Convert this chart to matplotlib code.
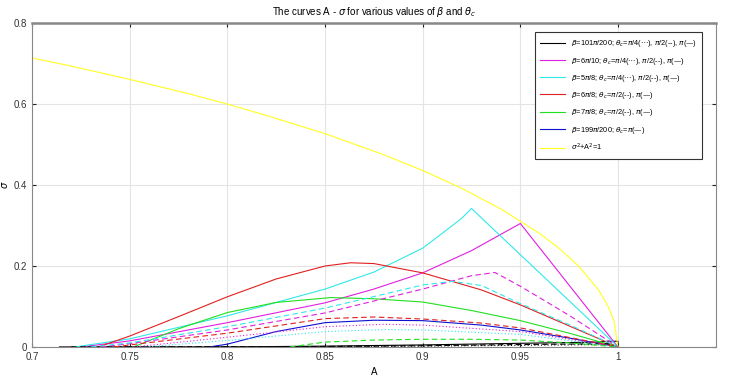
import numpy as np
import matplotlib.pyplot as plt

plt.rcParams['font.family'] = ['Liberation Sans', 'DejaVu Sans']
plt.rcParams['mathtext.fontset'] = 'dejavusans'

# --- data (A, sigma) ---
# beta = 101pi/200
blk_pi_A = [0.714, 0.80, 0.85, 0.90, 0.95, 0.99, 0.995, 1.0, 1.0]
blk_pi_s = [0.0, 0.0, 0.002, 0.005, 0.009, 0.012, 0.014, 0.014, 0.0]
blk_half_A = [0.72, 0.85, 0.90, 0.95, 0.995, 1.0]
blk_half_s = [0.0, 0.001, 0.003, 0.006, 0.008, 0.0]
blk_quar_A = [0.725, 0.85, 0.90, 0.95, 0.995, 0.995]
blk_quar_s = [0.0, 0.001, 0.002, 0.004, 0.006, 0.0]

# beta = 6pi/10
mag_pi_A = [0.725, 0.75, 0.80, 0.85, 0.875, 0.90, 0.925, 0.95, 1.0]
mag_pi_s = [0.0, 0.015, 0.06, 0.109, 0.143, 0.183, 0.238, 0.305, 0.0]
mag_half_A = [0.735, 0.75, 0.80, 0.85, 0.90, 0.925, 0.937, 0.95, 0.975, 1.0]
mag_half_s = [0.0, 0.008, 0.042, 0.084, 0.143, 0.176, 0.184, 0.15, 0.078, 0.0]
mag_quar_A = [0.752, 0.80, 0.85, 0.88, 0.90, 0.95, 1.0]
mag_quar_s = [0.0, 0.024, 0.05, 0.056, 0.054, 0.038, 0.0]

# beta = 5pi/8
cya_pi_A = [0.722, 0.75, 0.80, 0.85, 0.875, 0.90, 0.9125, 0.92, 0.925, 0.95, 1.0]
cya_pi_s = [0.0, 0.02, 0.077, 0.143, 0.185, 0.244, 0.29, 0.318, 0.342, 0.228, 0.0]
cya_half_A = [0.73, 0.75, 0.80, 0.85, 0.90, 0.915, 0.93, 0.95, 0.975, 1.0]
cya_half_s = [0.0, 0.01, 0.05, 0.096, 0.153, 0.162, 0.152, 0.107, 0.055, 0.0]
cya_quar_A = [0.758, 0.80, 0.85, 0.88, 0.90, 0.95, 1.0]
cya_quar_s = [0.0, 0.016, 0.038, 0.043, 0.042, 0.031, 0.0]

# beta = 6pi/8
red_pi_A = [0.734, 0.75, 0.775, 0.80, 0.825, 0.85, 0.863, 0.875, 0.90, 0.93, 0.95, 0.975, 1.0]
red_pi_s = [0.0, 0.027, 0.075, 0.124, 0.168, 0.2, 0.208, 0.206, 0.183, 0.141, 0.104, 0.052, 0.0]
red_half_A = [0.742, 0.75, 0.80, 0.85, 0.875, 0.90, 0.93, 0.95, 1.0]
red_half_s = [0.0, 0.005, 0.034, 0.07, 0.074, 0.069, 0.059, 0.047, 0.0]

# beta = 7pi/8
grn_pi_A = [0.752, 0.775, 0.80, 0.825, 0.853, 0.875, 0.90, 0.925, 0.95, 0.975, 1.0]
grn_pi_s = [0.0, 0.045, 0.085, 0.11, 0.122, 0.119, 0.111, 0.09, 0.065, 0.034, 0.0]
grn_half_A = [0.832, 0.85, 0.875, 0.90, 0.925, 0.95, 0.975, 1.0]
grn_half_s = [0.0, 0.012, 0.017, 0.019, 0.019, 0.017, 0.01, 0.0]

# beta = 199pi/200
blu_pi_A = [0.791, 0.80, 0.825, 0.85, 0.875, 0.90, 0.93, 0.95, 0.975, 1.0]
blu_pi_s = [0.0, 0.007, 0.038, 0.06, 0.066, 0.065, 0.054, 0.042, 0.022, 0.0]

# sigma^2 + A^2 = 1
yel_A = [0.70, 0.72, 0.75, 0.78, 0.80, 0.82, 0.85, 0.88, 0.90, 0.92, 0.94,
         0.96, 0.97, 0.98, 0.99, 0.995, 0.998, 1.0]
yel_s = [0.714, 0.694, 0.661, 0.626, 0.60, 0.572, 0.527, 0.475, 0.436, 0.392,
         0.341, 0.28, 0.243, 0.199, 0.141, 0.10, 0.063, 0.0]

labels = [
    r'$\beta$=101$\pi$/200; $\theta_c$=$\pi$/4($\cdots$), $\pi$/2(--), $\pi$(—)',
    r'$\beta$=6$\pi$/10; $\theta_c$=$\pi$/4($\cdots$), $\pi$/2(--), $\pi$(—)',
    r'$\beta$=5$\pi$/8; $\theta_c$=$\pi$/4($\cdots$), $\pi$/2(--), $\pi$(—)',
    r'$\beta$=6$\pi$/8; $\theta_c$=$\pi$/2(--), $\pi$(—)',
    r'$\beta$=7$\pi$/8; $\theta_c$=$\pi$/2(--), $\pi$(—)',
    r'$\beta$=199$\pi$/200; $\theta_c$=$\pi$(—)',
    r'$\sigma^2$+A$^2$=1',
]

c_blk, c_mag, c_cya = '#000000', '#e020e0', '#30e8e8'
c_red, c_grn, c_blu, c_yel = '#e02020', '#20e020', '#1010d0', '#ffff20'
lw = 0.8

fig = plt.figure(figsize=(7.47, 3.8), dpi=100)
ax = fig.add_axes([0.043, 0.087, 0.915, 0.852])

ax.plot(blk_pi_A, blk_pi_s, color=c_blk, lw=lw, label=labels[0])
ax.plot(mag_pi_A, mag_pi_s, color=c_mag, lw=lw, label=labels[1])
ax.plot(cya_pi_A, cya_pi_s, color=c_cya, lw=lw, label=labels[2])
ax.plot(red_pi_A, red_pi_s, color=c_red, lw=lw, label=labels[3])
ax.plot(grn_pi_A, grn_pi_s, color=c_grn, lw=lw, label=labels[4])
ax.plot(blu_pi_A, blu_pi_s, color=c_blu, lw=lw, label=labels[5])
ax.plot(yel_A, yel_s, color=c_yel, lw=lw, label=labels[6])

ax.plot(blk_half_A, blk_half_s, color=c_blk, lw=lw, ls=(0, (5, 3)))
ax.plot(blk_quar_A, blk_quar_s, color=c_blk, lw=lw, ls=(0, (1, 2)))
ax.plot(mag_half_A, mag_half_s, color=c_mag, lw=lw, ls=(0, (5, 3)))
ax.plot(mag_quar_A, mag_quar_s, color=c_mag, lw=lw, ls=(0, (1, 2)))
ax.plot(cya_half_A, cya_half_s, color=c_cya, lw=lw, ls=(0, (5, 3)))
ax.plot(cya_quar_A, cya_quar_s, color=c_cya, lw=lw, ls=(0, (1, 2)))
ax.plot(red_half_A, red_half_s, color=c_red, lw=lw, ls=(0, (5, 3)))
ax.plot(grn_half_A, grn_half_s, color=c_grn, lw=lw, ls=(0, (5, 3)))

ax.set_xlim(0.7, 1.05)
ax.set_ylim(0, 0.8)
ax.set_xticks([0.7, 0.75, 0.8, 0.85, 0.9, 0.95, 1.0])
ax.set_xticklabels(['0.7', '0.75', '0.8', '0.85', '0.9', '0.95', '1'])
ax.set_yticks([0, 0.2, 0.4, 0.6, 0.8])
ax.set_yticklabels(['0', '0.2', '0.4', '0.6', '0.8'])
ax.tick_params(direction='in', length=3, width=0.8, labelsize=7,
               top=True, right=True, colors='#222222', labelcolor='#333333')
ax.grid(True, color='#e4e4e4', lw=0.8)
ax.set_axisbelow(True)
for s in ax.spines.values():
    s.set_color('#888888')
    s.set_linewidth(0.8)
ax.spines['top'].set_linewidth(1.8)

ax.set_title(r'The curves A - $\sigma$ for various values of $\beta$ and $\theta_c$',
             fontsize=7, pad=6)
ax.set_xlabel('A', fontsize=7, labelpad=4)
ax.set_ylabel(r'$\sigma$', fontsize=7)
ax.yaxis.set_label_coords(-0.033, 0.5)

leg = ax.legend(loc='upper right', bbox_to_anchor=(0.986, 0.983), fontsize=5.3,
                handlelength=3.4, handletextpad=0.7, labelspacing=0.85,
                borderpad=0.8, fancybox=False, framealpha=1,
                edgecolor='#333333')
leg.get_frame().set_linewidth(0.8)

fig.savefig('out.png', dpi=100)
